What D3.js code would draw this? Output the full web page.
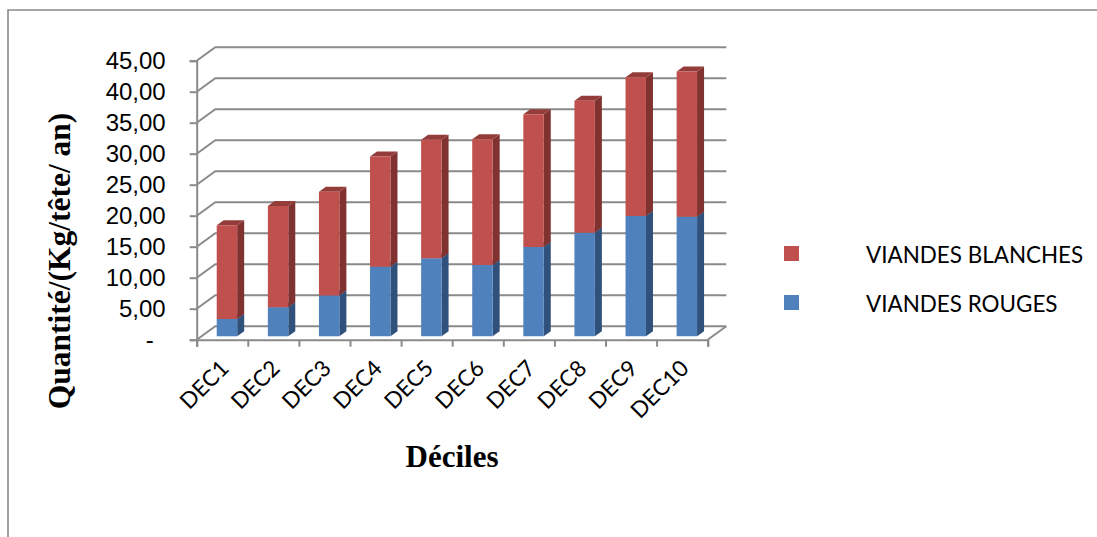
<!DOCTYPE html>
<html>
<head>
<meta charset="utf-8">
<script src="https://cdn.jsdelivr.net/npm/d3@7/dist/d3.min.js"></script>
<style>
  html, body { margin: 0; padding: 0; background: #fff; }
  svg { display: block; }
  .tick-label { font-family: "Liberation Sans", Arial, sans-serif; fill: #000; }
  .axis-title { font-family: "Liberation Serif", "Times New Roman", serif; font-weight: bold; fill: #000; }
</style>
</head>
<body>
<svg id="chart" width="1097" height="537"></svg>
<script>
// Meat consumption per head by income decile (kg/head/year)
const deciles = ["DEC1", "DEC2", "DEC3", "DEC4", "DEC5", "DEC6", "DEC7", "DEC8", "DEC9", "DEC10"];
const viandesRouges = [2.8, 4.7, 6.6, 11.2, 12.6, 11.5, 14.4, 16.7, 19.4, 19.3];
const viandesBlanches = [15.1, 16.3, 16.7, 17.8, 19.1, 20.3, 21.4, 21.3, 22.4, 23.4];
const yTicks = [0, 5, 10, 15, 20, 25, 30, 35, 40, 45];
const seriesNames = ["VIANDES BLANCHES", "VIANDES ROUGES"];

const gridColor = "#8a8a8a";
const palette = {
  red: { front: "#c0504d", side: "#7f3230", top: "#943c3a" },
  blue: { front: "#4f81bd", side: "#30517b", top: "#3d6696" }
};

const svg = d3.select("#chart");

// Outer frame: only the top and left edges fall inside the page
svg.append("path")
  .attr("d", d3.line()([[8, 537], [8, 10], [1097, 10]]))
  .attr("fill", "none").attr("stroke", gridColor).attr("stroke-width", 1.6);

// Oblique projection of the 3-D plot box
const floorX = [196.7, 707.7];
const floorY = 339.7;
const topY = 60.7;
const wall = { dx: 18.6, dy: -13.4 };
const barFront = { dx: 4.7, dy: -3.4 };
const barDepth = { dx: 7, dy: -5 };

const y = d3.scaleLinear().domain([0, 45]).range([floorY, topY]);
const xEdges = d3.scaleLinear().domain([0, deciles.length]).range(floorX);
const xBand = d3.scaleBand().domain(deciles).range(floorX)
  .paddingInner(0.6).paddingOuter(0.3);

// Gridlines on the back wall and their returns along the side wall
const grid = svg.append("g").attr("fill", "none").attr("stroke", gridColor);
grid.selectAll("path.wall").data(yTicks).join("path")
  .attr("class", "wall")
  .attr("stroke-width", 2)
  .attr("d", t => d3.line()([
    [floorX[0], y(t)],
    [floorX[0] + wall.dx, y(t) + wall.dy],
    [floorX[1] + wall.dx, y(t) + wall.dy]
  ]));
// Right-hand edge of the floor
grid.append("path").attr("stroke-width", 2)
  .attr("d", d3.line()([
    [floorX[1], floorY],
    [floorX[1] + wall.dx, floorY + wall.dy]
  ]));

// Value axis
const yAxis = d3.axisLeft(y)
  .tickValues(yTicks)
  .tickSize(7)
  .tickPadding(24)
  .tickFormat(t => t === 0 ? "-" : d3.format(".2f")(t).replace(".", ","));
const yG = svg.append("g").attr("transform", `translate(${floorX[0]},0)`).call(yAxis);
yG.select(".domain").attr("stroke", gridColor).attr("stroke-width", 2);
yG.selectAll(".tick line").attr("stroke", gridColor).attr("stroke-width", 2);
yG.selectAll(".tick text")
  .attr("class", "tick-label")
  .style("font-family", '"Liberation Sans", Arial, sans-serif')
  .style("font-size", "24px")
  .attr("dx", t => t === 0 ? -12 : 0);

// Tick marks between the categories on the floor edge
const xTickAxis = d3.axisBottom(xEdges).ticks(deciles.length).tickSize(7).tickFormat("");
const xTickG = svg.append("g").attr("transform", `translate(0,${floorY})`).call(xTickAxis);
xTickG.select(".domain").attr("stroke", gridColor).attr("stroke-width", 2);
xTickG.selectAll(".tick line").attr("stroke", gridColor).attr("stroke-width", 2);

// Category labels, turned 45 degrees
const xLabelG = svg.append("g")
  .attr("transform", `translate(0,${floorY})`)
  .call(d3.axisBottom(xBand).tickSize(0).tickPadding(0));
xLabelG.select(".domain").remove();
xLabelG.selectAll(".tick text")
  .attr("class", "tick-label")
  .style("font-family", 'Lato, "Liberation Sans", sans-serif')
  .style("font-size", "22.5px")
  .attr("text-anchor", "end")
  .attr("dy", 0)
  .attr("y", 0)
  .attr("transform", "translate(8,30) rotate(-45)");

// Stacked 3-D bars, lower segment first
const rows = deciles.map((d, i) => ({ d, rouge: viandesRouges[i], blanche: viandesBlanches[i] }));
const stacked = d3.stack().keys(["rouge", "blanche"])(rows);
const colorOf = { rouge: palette.blue, blanche: palette.red };

function quad(points) { return d3.line()(points) + "Z"; }

const bars = svg.append("g");
stacked.forEach(layer => {
  const c = colorOf[layer.key];
  const g = bars.append("g");
  layer.forEach(seg => {
    const x0 = xBand(seg.data.d) + barFront.dx;
    const x1 = x0 + xBand.bandwidth();
    const yb = y(seg[0]) + barFront.dy;
    const yt = y(seg[1]) + barFront.dy;
    g.append("path").attr("fill", c.side).attr("d", quad([
      [x1, yb], [x1 + barDepth.dx, yb + barDepth.dy],
      [x1 + barDepth.dx, yt + barDepth.dy], [x1, yt]
    ]));
    g.append("path").attr("fill", c.top).attr("d", quad([
      [x0, yt], [x1, yt],
      [x1 + barDepth.dx, yt + barDepth.dy], [x0 + barDepth.dx, yt + barDepth.dy]
    ]));
    g.append("path").attr("fill", c.front).attr("d", quad([
      [x0, yb], [x1, yb], [x1, yt], [x0, yt]
    ]));
  });
});

// Axis titles
svg.append("text").attr("class", "axis-title")
  .attr("text-anchor", "middle")
  .attr("transform", "translate(70,261) rotate(-90)")
  .style("font-size", "31.5px")
  .text("Quantité/(Kg/tête/ an)");
svg.append("text").attr("class", "axis-title")
  .attr("text-anchor", "middle")
  .attr("x", 452).attr("y", 467)
  .style("font-size", "31px")
  .text("Déciles");

// Legend: entry text set slightly condensed
const legend = svg.append("g");
const legendColors = [palette.red.front, palette.blue.front];
const legendRow = d3.scalePoint().domain(seriesNames).range([253.5, 302.5]);
seriesNames.forEach((name, i) => {
  legend.append("rect")
    .attr("x", 784).attr("y", legendRow(name) - 7.5)
    .attr("width", 15).attr("height", 15)
    .attr("fill", legendColors[i]);
  legend.append("text").attr("class", "tick-label")
    .attr("transform", `translate(866,${legendRow(name) + 9}) scale(0.935,1)`)
    .style("font-family", 'Lato, "Liberation Sans", sans-serif')
    .style("font-size", "24px")
    .text(name);
});
</script>
</body>
</html>
